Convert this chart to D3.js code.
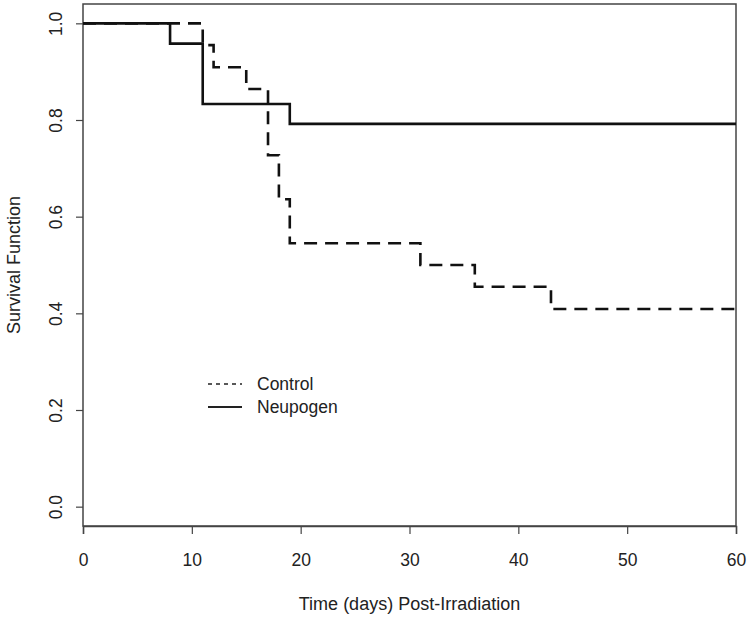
<!DOCTYPE html>
<html>
<head>
<meta charset="utf-8">
<script src="https://cdn.jsdelivr.net/npm/d3@7"></script>
<style>
  html, body { margin: 0; padding: 0; background: #fff; }
  svg { display: block; }
  text { font-family: "Liberation Sans", Arial, sans-serif; fill: #222; }
</style>
</head>
<body>
<svg id="chart" width="750" height="619"></svg>
<script>
// Data
const seriesNames = ["Control", "Neupogen"];
const controlTime = [0, 11, 12, 15, 17, 18, 19, 31, 36, 43, 60];
const controlSurv = [1, 0.955, 0.909, 0.864, 0.727, 0.636, 0.545, 0.5, 0.455, 0.409, 0.409];
const neupogenTime = [0, 8, 11, 19, 60];
const neupogenSurv = [1, 0.958, 0.833, 0.792, 0.792];
const xTicks = [0, 10, 20, 30, 40, 50, 60];
const yTicks = [0, 0.2, 0.4, 0.6, 0.8, 1.0];

const FS = 17.5;
const svg = d3.select("#chart");
const box = { left: 83, right: 736, top: 4, bottom: 526 };

const x = d3.scaleLinear().domain([0, 60]).range([box.left, box.right]);
// y: R-style 4% padding
const y = d3.scaleLinear().domain([-0.04, 1.04]).range([box.bottom, box.top]);

// Box
svg.append("rect")
  .attr("x", box.left).attr("y", box.top)
  .attr("width", box.right - box.left).attr("height", box.bottom - box.top)
  .attr("fill", "none").attr("stroke", "#444").attr("stroke-width", 1.5);

// X axis
const xAxis = svg.append("g")
  .attr("transform", `translate(0,${box.bottom})`)
  .call(d3.axisBottom(x).tickValues(xTicks).tickSize(8).tickPadding(20).tickFormat(d3.format("d")));
xAxis.select(".domain").attr("stroke", "#444").attr("stroke-width", 1.5);
xAxis.selectAll(".tick line").attr("stroke", "#444").attr("stroke-width", 1.2);
xAxis.selectAll("text").attr("font-size", FS).attr("fill", "#222")
  .attr("font-family", "Liberation Sans, Arial, sans-serif");

// Y axis
const yAxis = svg.append("g")
  .attr("transform", `translate(${box.left},0)`)
  .call(d3.axisLeft(y).tickValues(yTicks).tickSize(7).tickFormat(d3.format(".1f")));
yAxis.select(".domain").remove();
yAxis.selectAll(".tick line").attr("stroke", "#444").attr("stroke-width", 1.2);
yAxis.selectAll("text")
  .attr("font-size", FS).attr("fill", "#222")
  .attr("font-family", "Liberation Sans, Arial, sans-serif")
  .attr("text-anchor", "middle")
  .attr("x", 0).attr("dy", 0)
  .attr("transform", "translate(-21,0) rotate(-90)")
  .attr("y", 0);

// Axis titles
svg.append("text")
  .attr("x", (box.left + box.right) / 2).attr("y", 610)
  .attr("text-anchor", "middle").attr("font-size", 18)
  .text("Time (days) Post-Irradiation");
svg.append("text")
  .attr("transform", `translate(20,${(box.top + box.bottom) / 2}) rotate(-90)`)
  .attr("text-anchor", "middle").attr("font-size", 18)
  .text("Survival Function");

// Curves
const line = d3.line().x(d => x(d[0])).y(d => y(d[1])).curve(d3.curveStepAfter);
const controlData = controlTime.map((t, i) => [t, controlSurv[i]]);
const neupogenData = neupogenTime.map((t, i) => [t, neupogenSurv[i]]);

svg.append("path").datum(controlData)
  .attr("d", line).attr("fill", "none").attr("stroke", "#111")
  .attr("stroke-width", 2.6).attr("stroke-dasharray", "13,8");
svg.append("path").datum(neupogenData)
  .attr("d", line).attr("fill", "none").attr("stroke", "#111")
  .attr("stroke-width", 2.6);

// Legend
const legend = svg.append("g");
const legY = [384, 407];
legend.append("line").attr("x1", 208).attr("x2", 242).attr("y1", legY[0]).attr("y2", legY[0])
  .attr("stroke", "#222").attr("stroke-width", 1.3).attr("stroke-dasharray", "4,4");
legend.append("line").attr("x1", 208).attr("x2", 242).attr("y1", legY[1]).attr("y2", legY[1])
  .attr("stroke", "#222").attr("stroke-width", 2);
seriesNames.forEach((name, i) => {
  legend.append("text").attr("x", 257).attr("y", legY[i]).attr("dy", "0.35em")
    .attr("font-size", FS).text(name);
});
</script>
</body>
</html>
